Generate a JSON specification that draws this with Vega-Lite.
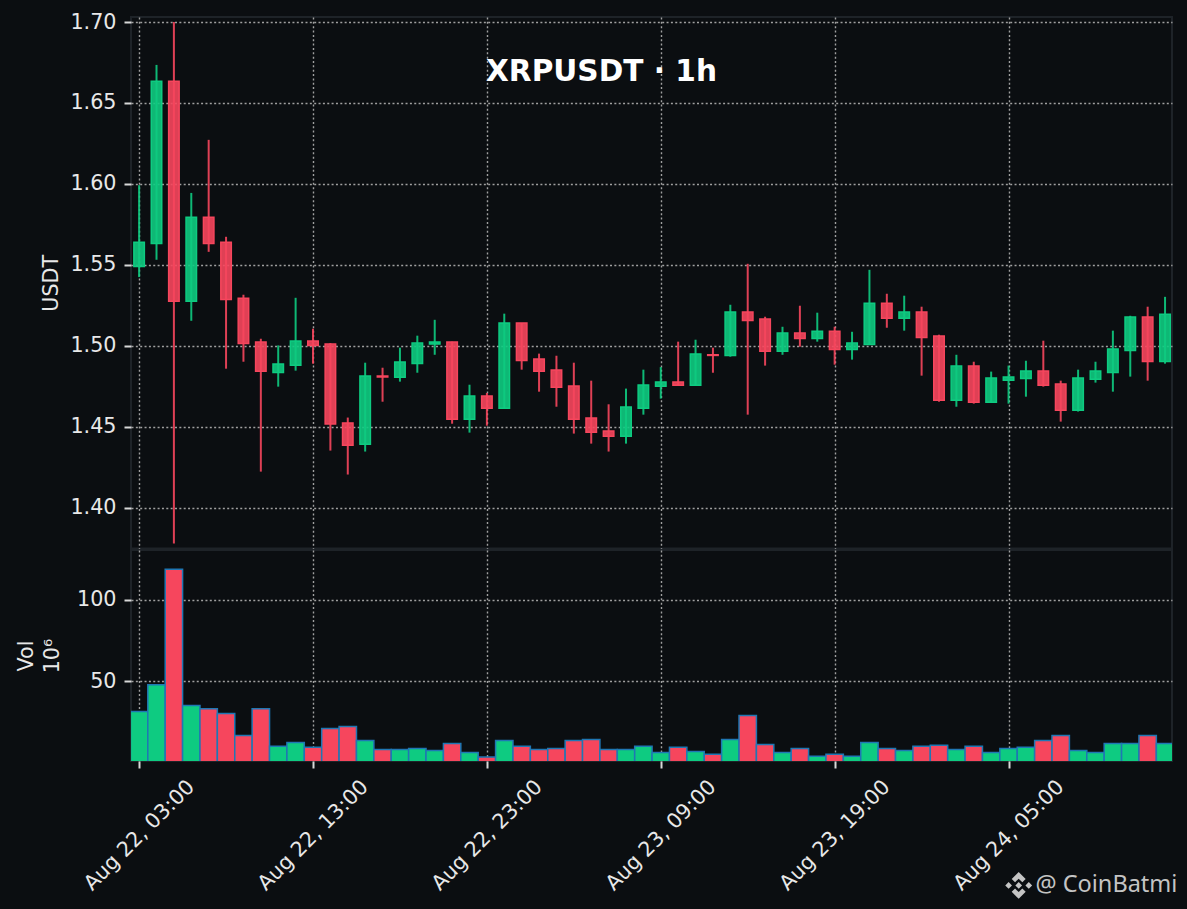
{
  "$schema": "https://vega.github.io/schema/vega-lite/v6.json",
  "background": "#0b0e11",
  "padding": {"left": 14, "top": 10, "right": 16, "bottom": 16},
  "data": {"values": [
    {"t":"2021-08-22T03:00:00","open":1.549,"high":1.5992,"low":1.5424,"close":1.564,"vol":31.5,"dir":"up"},
    {"t":"2021-08-22T04:00:00","open":1.5632,"high":1.6735,"low":1.5531,"close":1.6634,"vol":48,"dir":"up"},
    {"t":"2021-08-22T05:00:00","open":1.6634,"high":1.7,"low":1.3778,"close":1.5274,"vol":118.7,"dir":"down"},
    {"t":"2021-08-22T06:00:00","open":1.5274,"high":1.5944,"low":1.5154,"close":1.5794,"vol":35.2,"dir":"up"},
    {"t":"2021-08-22T07:00:00","open":1.5794,"high":1.6272,"low":1.558,"close":1.5632,"vol":33.3,"dir":"down"},
    {"t":"2021-08-22T08:00:00","open":1.564,"high":1.5673,"low":1.4858,"close":1.5286,"vol":30.3,"dir":"down"},
    {"t":"2021-08-22T09:00:00","open":1.5294,"high":1.5315,"low":1.4901,"close":1.5014,"vol":16.9,"dir":"down"},
    {"t":"2021-08-22T10:00:00","open":1.5023,"high":1.5043,"low":1.4222,"close":1.4842,"vol":33.3,"dir":"down"},
    {"t":"2021-08-22T11:00:00","open":1.4835,"high":1.5002,"low":1.4747,"close":1.4887,"vol":10.2,"dir":"up"},
    {"t":"2021-08-22T12:00:00","open":1.4879,"high":1.5296,"low":1.4846,"close":1.5029,"vol":12.6,"dir":"up"},
    {"t":"2021-08-22T13:00:00","open":1.5029,"high":1.5105,"low":1.4889,"close":1.5002,"vol":9.6,"dir":"down"},
    {"t":"2021-08-22T14:00:00","open":1.501,"high":1.5016,"low":1.4352,"close":1.4516,"vol":21.1,"dir":"down"},
    {"t":"2021-08-22T15:00:00","open":1.4523,"high":1.4556,"low":1.4204,"close":1.4385,"vol":22.4,"dir":"down"},
    {"t":"2021-08-22T16:00:00","open":1.4391,"high":1.4895,"low":1.4346,"close":1.4813,"vol":13.8,"dir":"up"},
    {"t":"2021-08-22T17:00:00","open":1.4813,"high":1.4864,"low":1.4654,"close":1.4807,"vol":8.3,"dir":"down"},
    {"t":"2021-08-22T18:00:00","open":1.4805,"high":1.4988,"low":1.4778,"close":1.4899,"vol":8.3,"dir":"up"},
    {"t":"2021-08-22T19:00:00","open":1.489,"high":1.5062,"low":1.4833,"close":1.5016,"vol":8.9,"dir":"up"},
    {"t":"2021-08-22T20:00:00","open":1.501,"high":1.516,"low":1.4944,"close":1.5023,"vol":7.7,"dir":"up"},
    {"t":"2021-08-22T21:00:00","open":1.5023,"high":1.5025,"low":1.4518,"close":1.4545,"vol":12,"dir":"down"},
    {"t":"2021-08-22T22:00:00","open":1.4545,"high":1.4759,"low":1.4463,"close":1.4689,"vol":6.5,"dir":"up"},
    {"t":"2021-08-22T23:00:00","open":1.4689,"high":1.4708,"low":1.4506,"close":1.4613,"vol":3.6,"dir":"down"},
    {"t":"2021-08-23T00:00:00","open":1.4613,"high":1.5198,"low":1.4613,"close":1.514,"vol":13.8,"dir":"up"},
    {"t":"2021-08-23T01:00:00","open":1.514,"high":1.514,"low":1.4852,"close":1.4909,"vol":10.2,"dir":"down"},
    {"t":"2021-08-23T02:00:00","open":1.4918,"high":1.4951,"low":1.4716,"close":1.4842,"vol":8.3,"dir":"down"},
    {"t":"2021-08-23T03:00:00","open":1.485,"high":1.4938,"low":1.4623,"close":1.4743,"vol":8.9,"dir":"down"},
    {"t":"2021-08-23T04:00:00","open":1.4751,"high":1.4895,"low":1.4457,"close":1.4545,"vol":13.8,"dir":"down"},
    {"t":"2021-08-23T05:00:00","open":1.4553,"high":1.4784,"low":1.4395,"close":1.4465,"vol":14.4,"dir":"down"},
    {"t":"2021-08-23T06:00:00","open":1.4473,"high":1.4638,"low":1.4346,"close":1.444,"vol":8.3,"dir":"down"},
    {"t":"2021-08-23T07:00:00","open":1.444,"high":1.4735,"low":1.4395,"close":1.4621,"vol":8.3,"dir":"up"},
    {"t":"2021-08-23T08:00:00","open":1.4613,"high":1.4852,"low":1.4574,"close":1.4757,"vol":10.2,"dir":"up"},
    {"t":"2021-08-23T09:00:00","open":1.4749,"high":1.4868,"low":1.4673,"close":1.4776,"vol":6.5,"dir":"up"},
    {"t":"2021-08-23T10:00:00","open":1.4776,"high":1.5025,"low":1.4755,"close":1.4755,"vol":9.6,"dir":"down"},
    {"t":"2021-08-23T11:00:00","open":1.4755,"high":1.5037,"low":1.4755,"close":1.4949,"vol":7.1,"dir":"up"},
    {"t":"2021-08-23T12:00:00","open":1.4944,"high":1.4988,"low":1.4833,"close":1.494,"vol":5.3,"dir":"down"},
    {"t":"2021-08-23T13:00:00","open":1.494,"high":1.5253,"low":1.4932,"close":1.5208,"vol":14.4,"dir":"up"},
    {"t":"2021-08-23T14:00:00","open":1.5208,"high":1.5506,"low":1.4574,"close":1.5156,"vol":29.1,"dir":"down"},
    {"t":"2021-08-23T15:00:00","open":1.5165,"high":1.5179,"low":1.4877,"close":1.4965,"vol":11.4,"dir":"down"},
    {"t":"2021-08-23T16:00:00","open":1.4965,"high":1.5117,"low":1.4944,"close":1.5078,"vol":6.5,"dir":"up"},
    {"t":"2021-08-23T17:00:00","open":1.5078,"high":1.5247,"low":1.4994,"close":1.5045,"vol":8.9,"dir":"down"},
    {"t":"2021-08-23T18:00:00","open":1.5045,"high":1.5204,"low":1.5025,"close":1.509,"vol":4.1,"dir":"up"},
    {"t":"2021-08-23T19:00:00","open":1.509,"high":1.5117,"low":1.4883,"close":1.4977,"vol":5.3,"dir":"down"},
    {"t":"2021-08-23T20:00:00","open":1.4977,"high":1.5086,"low":1.4914,"close":1.5016,"vol":4.1,"dir":"up"},
    {"t":"2021-08-23T21:00:00","open":1.5008,"high":1.5469,"low":1.5004,"close":1.5263,"vol":12.6,"dir":"up"},
    {"t":"2021-08-23T22:00:00","open":1.5263,"high":1.5321,"low":1.5111,"close":1.5169,"vol":8.9,"dir":"down"},
    {"t":"2021-08-23T23:00:00","open":1.5169,"high":1.5309,"low":1.5093,"close":1.5208,"vol":7.7,"dir":"up"},
    {"t":"2021-08-24T00:00:00","open":1.5208,"high":1.5241,"low":1.4815,"close":1.5051,"vol":10.2,"dir":"down"},
    {"t":"2021-08-24T01:00:00","open":1.506,"high":1.5068,"low":1.4654,"close":1.4663,"vol":10.8,"dir":"down"},
    {"t":"2021-08-24T02:00:00","open":1.4663,"high":1.4944,"low":1.4623,"close":1.4874,"vol":8.3,"dir":"up"},
    {"t":"2021-08-24T03:00:00","open":1.4874,"high":1.4901,"low":1.4642,"close":1.465,"vol":10.2,"dir":"down"},
    {"t":"2021-08-24T04:00:00","open":1.465,"high":1.484,"low":1.465,"close":1.48,"vol":6.5,"dir":"up"},
    {"t":"2021-08-24T05:00:00","open":1.4786,"high":1.4877,"low":1.4642,"close":1.4807,"vol":8.9,"dir":"up"},
    {"t":"2021-08-24T06:00:00","open":1.4798,"high":1.4907,"low":1.4685,"close":1.4844,"vol":9.6,"dir":"up"},
    {"t":"2021-08-24T07:00:00","open":1.4844,"high":1.5031,"low":1.4747,"close":1.4755,"vol":13.8,"dir":"down"},
    {"t":"2021-08-24T08:00:00","open":1.4763,"high":1.4784,"low":1.4531,"close":1.4601,"vol":16.9,"dir":"down"},
    {"t":"2021-08-24T09:00:00","open":1.4601,"high":1.4852,"low":1.4593,"close":1.48,"vol":7.7,"dir":"up"},
    {"t":"2021-08-24T10:00:00","open":1.4792,"high":1.4901,"low":1.4772,"close":1.4844,"vol":6.5,"dir":"up"},
    {"t":"2021-08-24T11:00:00","open":1.4835,"high":1.5093,"low":1.4716,"close":1.498,"vol":12,"dir":"up"},
    {"t":"2021-08-24T12:00:00","open":1.4971,"high":1.5185,"low":1.4809,"close":1.5177,"vol":12,"dir":"up"},
    {"t":"2021-08-24T13:00:00","open":1.5177,"high":1.5241,"low":1.4784,"close":1.4903,"vol":16.9,"dir":"down"},
    {"t":"2021-08-24T14:00:00","open":1.4903,"high":1.5302,"low":1.4889,"close":1.5195,"vol":12,"dir":"up"}
  ]},
  "spacing": -2,
  "vconcat": [
    {
      "width": 1041,
      "height": 531.5,
      "title": {
        "text": "XRPUSDT · 1h",
        "anchor": "middle",
        "orient": "top",
        "offset": -77,
        "dx": -50,
        "font": "DejaVu Sans",
        "fontSize": 29.6,
        "fontWeight": "bold",
        "color": "#ffffff"
      },
      "encoding": {
        "x": {
          "field": "t",
          "type": "temporal",
          "scale": {"nice": false, "padding": 0, "domain": [
            {"year": 2021, "month": 8, "date": 22, "hours": 2, "minutes": 32},
            {"year": 2021, "month": 8, "date": 24, "hours": 14, "minutes": 24}
          ]},
          "axis": {
            "title": null,
            "labels": false,
            "ticks": false,
            "domain": false,
            "values": [
              {"year": 2021, "month": 8, "date": 22, "hours": 3},
              {"year": 2021, "month": 8, "date": 22, "hours": 13},
              {"year": 2021, "month": 8, "date": 22, "hours": 23},
              {"year": 2021, "month": 8, "date": 23, "hours": 9},
              {"year": 2021, "month": 8, "date": 23, "hours": 19},
              {"year": 2021, "month": 8, "date": 24, "hours": 5}
            ]
          }
        },
        "color": {
          "field": "dir",
          "type": "nominal",
          "scale": {"domain": ["up", "down"], "range": ["#0ecb81", "#f6465d"]},
          "legend": null
        }
      },
      "layer": [
        {
          "mark": {"type": "rule", "strokeWidth": 2, "opacity": 0.9},
          "encoding": {
            "y": {
              "field": "low",
              "type": "quantitative",
              "scale": {"domain": [1.3747, 1.7031], "zero": false, "nice": false},
              "axis": {
                "title": "USDT",
                "titlePadding": 8.5,
                "values": [1.4, 1.45, 1.5, 1.55, 1.6, 1.65, 1.7],
                "format": ".2f"
              }
            },
            "y2": {"field": "high"}
          }
        },
        {
          "mark": {"type": "bar", "width": 10.5, "strokeWidth": 1.5, "fillOpacity": 0.9},
          "encoding": {
            "y": {
              "field": "open",
              "type": "quantitative",
              "scale": {"domain": [1.3747, 1.7031], "zero": false, "nice": false}
            },
            "y2": {"field": "close"},
            "stroke": {
              "field": "dir",
              "type": "nominal",
              "scale": {"domain": ["up", "down"], "range": ["#0ecb81", "#f6465d"]},
              "legend": null
            }
          }
        }
      ]
    },
    {
      "width": 1041,
      "height": 211,
      "layer": [
        {
          "mark": {"type": "bar", "width": 17.4, "stroke": "#1f77b4", "strokeWidth": 1.5, "clip": true},
          "encoding": {
            "x": {
              "field": "t",
              "type": "temporal",
              "scale": {"nice": false, "padding": 0, "domain": [
                {"year": 2021, "month": 8, "date": 22, "hours": 2, "minutes": 32},
                {"year": 2021, "month": 8, "date": 24, "hours": 14, "minutes": 24}
              ]},
              "axis": {
                "title": null,
                "format": "%b %d, %H:%M",
                "labelAngle": -45,
                "labelAlign": "center",
                "labelBaseline": "middle",
                "labelPadding": 67,
                "labelOverlap": false,
                "labelBound": false,
                "labelFlush": false,
                "domain": false,
                "values": [
                  {"year": 2021, "month": 8, "date": 22, "hours": 3},
                  {"year": 2021, "month": 8, "date": 22, "hours": 13},
                  {"year": 2021, "month": 8, "date": 22, "hours": 23},
                  {"year": 2021, "month": 8, "date": 23, "hours": 9},
                  {"year": 2021, "month": 8, "date": 23, "hours": 19},
                  {"year": 2021, "month": 8, "date": 24, "hours": 5}
                ]
              }
            },
            "y": {
              "field": "vol",
              "type": "quantitative",
              "scale": {"domain": [1.22, 130.5], "zero": false, "nice": false},
              "axis": {
                "title": ["Vol", "10⁶"],
                "titlePadding": 14.5,
                "titleLineHeight": 26,
                "values": [50, 100],
                "format": "d"
              }
            },
            "color": {
              "field": "dir",
              "type": "nominal",
              "scale": {"domain": ["up", "down"], "range": ["#0ecb81", "#f6465d"]},
              "legend": null
            }
          }
        },
        {
          "data": {"values": [{"t": "2021-08-24T05:35:00", "y": -75}]},
          "mark": {
            "type": "point",
            "filled": true,
            "opacity": 1,
            "size": 784,
            "color": "#c4c4c4",
            "shape": "M0 -0.24 L0.24 0 L0 0.24 L-0.24 0Z M-0.72 -0.24 L-0.48 0 L-0.72 0.24 L-0.96 0Z M0.72 -0.24 L0.96 0 L0.72 0.24 L0.48 0Z M0 -0.96 L0.5 -0.46 L0.26 -0.22 L0 -0.48 L-0.26 -0.22 L-0.5 -0.46Z M0 0.96 L0.5 0.46 L0.26 0.22 L0 0.48 L-0.26 0.22 L-0.5 0.46Z"
          },
          "encoding": {
            "x": {"field": "t", "type": "temporal", "scale": {"nice": false, "padding": 0, "domain": [
              {"year": 2021, "month": 8, "date": 22, "hours": 2, "minutes": 32},
              {"year": 2021, "month": 8, "date": 24, "hours": 14, "minutes": 24}
            ]}},
            "y": {"field": "y", "type": "quantitative", "scale": {"domain": [1.22, 130.5], "zero": false, "nice": false}}
          }
        },
        {
          "data": {"values": [{"t": "2021-08-24T06:33:00", "y": -75, "label": "@ CoinBatmi"}]},
          "mark": {
            "type": "text",
            "align": "left",
            "baseline": "middle",
            "font": "Noto Sans",
            "fontSize": 23.5,
            "color": "#c4c4c4"
          },
          "encoding": {
            "x": {"field": "t", "type": "temporal", "scale": {"nice": false, "padding": 0, "domain": [
              {"year": 2021, "month": 8, "date": 22, "hours": 2, "minutes": 32},
              {"year": 2021, "month": 8, "date": 24, "hours": 14, "minutes": 24}
            ]}},
            "y": {"field": "y", "type": "quantitative", "scale": {"domain": [1.22, 130.5], "zero": false, "nice": false}},
            "text": {"field": "label"}
          }
        }
      ]
    }
  ],
  "config": {
    "font": "DejaVu Sans",
    "view": {"stroke": "#1e2328", "strokeWidth": 2},
    "axis": {
      "grid": true,
      "gridColor": "#a0a0a0",
      "gridDash": [2, 2.35],
      "gridWidth": 1.4,
      "domain": false,
      "tickColor": "#d8d8d8",
      "tickSize": 7,
      "tickWidth": 2,
      "labelColor": "#e8e8e8",
      "labelFontSize": 20.7,
      "labelPadding": 8,
      "labelFont": "DejaVu Sans",
      "titleColor": "#e8e8e8",
      "titleFontSize": 20.7,
      "titleFontWeight": "normal",
      "titleFont": "DejaVu Sans"
    }
  }
}
